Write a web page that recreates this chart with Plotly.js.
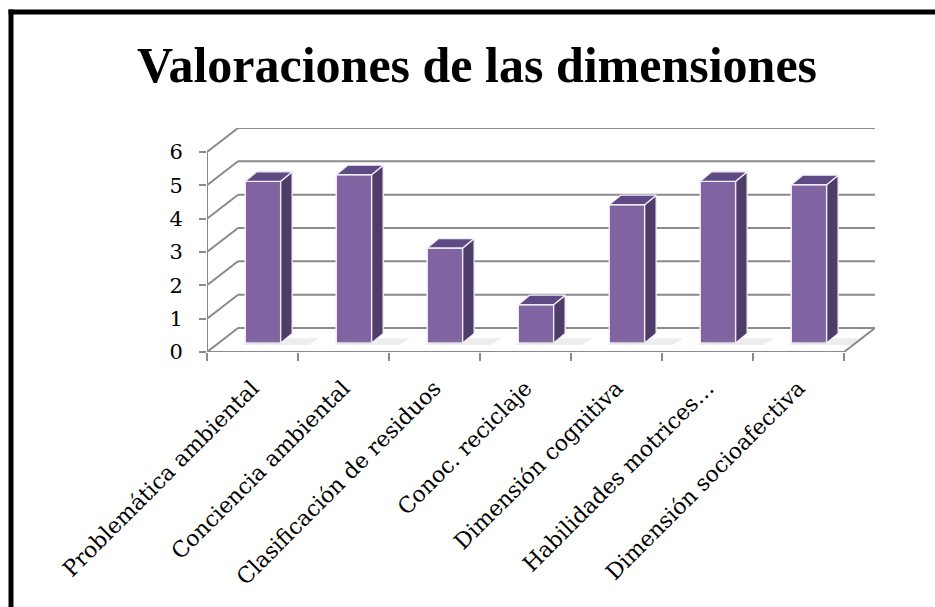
<!DOCTYPE html>
<html>
<head>
<meta charset="utf-8">
<script src="https://cdn.plot.ly/plotly-3.0.1.min.js"></script>
<style>html,body{margin:0;padding:0;background:#fff;}#chart{width:935px;height:607px;}</style>
</head>
<body>
<div id="chart"></div>
<script>
// ---- data ----
const categories = ["Problemática ambiental","Conciencia ambiental","Clasificación de residuos","Conoc. reciclaje","Dimensión cognitiva","Habilidades motrices…","Dimensión socioafectiva"];
const values = [4.85, 5.05, 2.85, 1.15, 4.15, 4.85, 4.75];
const yTicks = [0, 1, 2, 3, 4, 5, 6];
const titleText = "Valoraciones de las dimensiones";

// ---- pseudo-3D geometry (data units) ----
const n = categories.length;
const wallDx = 0.341;   // back-wall depth in category units
const wallDy = 0.72;    // back-wall depth in value units
const depthFrac = 0.375;
const barBase = wallDy * depthFrac;
const barW = 0.39;
const barOff = -0.08;
const bDx = 0.126, bDy = 0.285;

const idx = categories.map((_, i) => i);
const gridColor = "#8a8a8a";

// plot area in pixels (for the frame, given in paper units)
const PL = 207, PW = 668, PB = 352, PH = 224;
const px = v => (v - PL) / PW, py = v => (PB - v) / PH;

const shapes = [];
const line = (x0, y0, x1, y1) => shapes.push({type: "line", xref: "x", yref: "y", x0, y0, x1, y1, layer: "below", line: {color: gridColor, width: 2}});
yTicks.forEach(v => {
  line(-0.5 + wallDx, v + wallDy, n - 0.5 + wallDx, v + wallDy);
  line(-0.5, v, -0.5 + wallDx, v + wallDy);
});
line(-0.5, 0, n - 0.5, 0);
line(n - 0.5, 0, n - 0.5 + wallDx, wallDy);
line(-0.5, 0, -0.5, yTicks[yTicks.length - 1]);
// chart frame (top and left edges)
shapes.push({type: "line", xref: "paper", yref: "paper", x0: px(8.5), x1: px(960), y0: py(12), y1: py(12), line: {color: "#000", width: 5}});
shapes.push({type: "line", xref: "paper", yref: "paper", x0: px(11), x1: px(11), y0: py(9.5), y1: py(640), line: {color: "#000", width: 5}});

const traces = [];
// soft shadows on the floor
const shX = [], shY = [];
idx.forEach(i => {
  const x0 = i + barOff;
  shX.push(x0 - 0.03, x0 + barW + 0.3, x0 + barW + 0.3 + bDx, x0 + bDx, null);
  shY.push(barBase - 0.06, barBase - 0.06, barBase + bDy * 0.5, barBase + bDy * 0.5, null);
});
traces.push({type: "scatter", x: shX, y: shY, fill: "toself", fillcolor: "rgba(140,140,140,0.16)", line: {width: 0}, mode: "lines", hoverinfo: "skip", showlegend: false});

// front faces
traces.push({type: "bar", x: idx, y: values, base: idx.map(() => barBase), width: barW, offset: barOff, marker: {color: "#8064A2", line: {color: "#f2eef8", width: 1.5}}, showlegend: false, hoverinfo: "skip"});

// side and top faces
const sX = [], sY = [], tX = [], tY = [];
idx.forEach((i, k) => {
  const xl = i + barOff, xr = xl + barW, b = barBase, t = barBase + values[k];
  sX.push(xr, xr + bDx, xr + bDx, xr, xr, null);
  sY.push(b, b + bDy, t + bDy, t, b, null);
  tX.push(xl, xl + bDx, xr + bDx, xr, xl, null);
  tY.push(t, t + bDy, t + bDy, t, t, null);
});
traces.push({type: "scatter", x: sX, y: sY, fill: "toself", fillcolor: "#4F3D69", mode: "lines", line: {color: "#f2eef8", width: 1.3}, hoverinfo: "skip", showlegend: false});
traces.push({type: "scatter", x: tX, y: tY, fill: "toself", fillcolor: "#5E4A84", mode: "lines", line: {color: "#f2eef8", width: 1.3}, hoverinfo: "skip", showlegend: false});
// carrier for the boundary tick axis
traces.push({type: "scatter", x: [-0.5], y: [0], xaxis: "x2", mode: "markers", marker: {opacity: 0}, hoverinfo: "skip", showlegend: false});

const boundaries = [];
for (let i = 0; i <= n; i++) boundaries.push(i - 0.5);

const serif = "DejaVu Serif, Liberation Serif, serif";
const layout = {
  width: 935, height: 607, autosize: false,
  margin: {l: 207, r: 60, t: 128, b: 255, pad: 0},
  paper_bgcolor: "#fff", plot_bgcolor: "rgba(0,0,0,0)",
  showlegend: false,
  title: {text: titleText, font: {family: "Liberation Serif, serif", size: 50, color: "#000", weight: "bold"}, x: 477 / 935, xanchor: "center", xref: "container", y: 1 - 64 / 607, yanchor: "middle", yref: "container"},
  xaxis: {range: [-0.5, n - 0.5 + wallDx], tickvals: idx, ticktext: categories, tickangle: -45, ticks: "", ticklabelstandoff: 18, showgrid: false, zeroline: false, showline: false, tickfont: {family: serif, size: 22, color: "#000"}, fixedrange: true},
  xaxis2: {overlaying: "x", range: [-0.5, n - 0.5 + wallDx], tickvals: boundaries, ticks: "outside", ticklen: 8, tickwidth: 2, tickcolor: gridColor, showticklabels: false, showgrid: false, zeroline: false, showline: false, side: "bottom", anchor: "y"},
  yaxis: {range: [0, yTicks[yTicks.length - 1] + wallDy], tickvals: yTicks, ticks: "outside", ticklen: 7, tickwidth: 2, tickcolor: gridColor, ticklabelstandoff: 12, showgrid: false, zeroline: false, showline: false, tickfont: {family: serif, size: 21, color: "#000"}, fixedrange: true},
  shapes: shapes
};

Plotly.newPlot("chart", traces, layout, {displayModeBar: false, staticPlot: true});
</script>
</body>
</html>
